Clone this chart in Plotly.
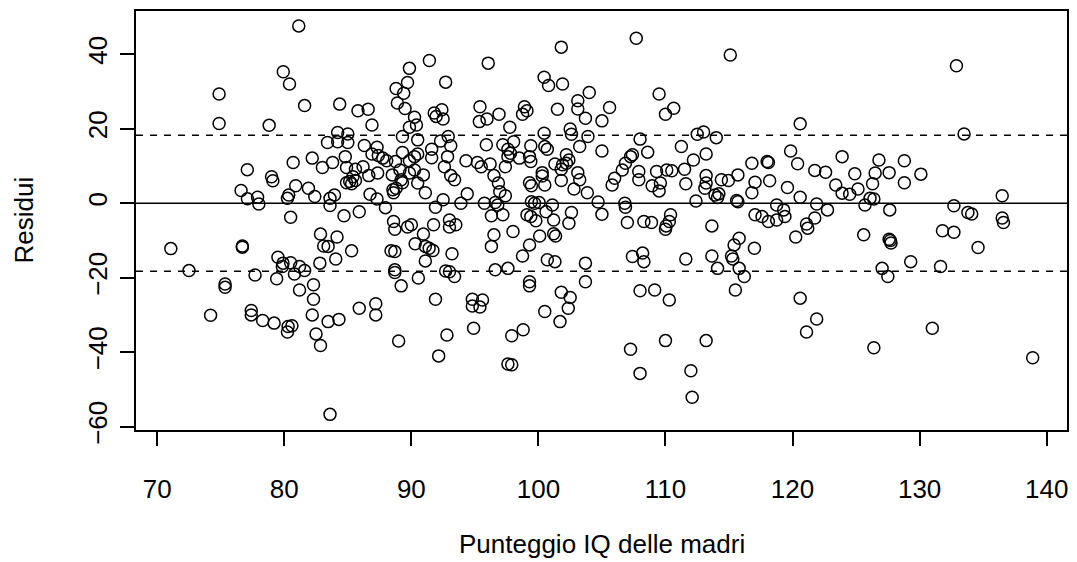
import plotly.graph_objects as go

# Punteggio IQ delle madri (x) e residui (y)
mom_iq = [
71.07,72.5,74.2,74.87,74.87,75.34,75.34,76.6,76.7,76.7,77.09,77.1,77.4,77.4,77.7,77.9,78.0,78.3,78.81,79.0,
79.1,79.2,79.4,79.5,79.85,79.9,79.92,80.25,80.25,80.3,80.35,80.41,80.5,80.5,80.6,80.7,80.8,80.9,81.14,81.2,
81.2,81.6,81.6,81.9,82.2,82.2,82.3,82.3,82.4,82.5,82.8,82.85,82.85,83.0,83.1,83.4,83.45,83.45,83.6,83.6,
83.6,83.8,83.95,84.05,84.15,84.2,84.2,84.3,84.36,84.7,84.8,84.9,84.9,85.0,85.0,85.15,85.3,85.3,85.4,85.6,
85.6,85.8,85.9,85.9,86.2,86.3,86.6,86.65,86.75,86.9,86.9,87.2,87.2,87.3,87.3,87.35,87.4,87.75,87.96,88.06,
88.4,88.5,88.55,88.6,88.6,88.7,88.7,88.7,88.7,88.75,88.8,88.8,88.9,89.0,89.1,89.2,89.2,89.3,89.3,89.3,
89.4,89.5,89.7,89.7,89.85,89.85,89.85,89.85,90.0,90.25,90.25,90.25,90.3,90.4,90.5,90.5,90.5,90.55,90.95,90.95,
91.1,91.1,91.1,91.4,91.42,91.6,91.6,91.7,91.75,91.8,91.9,91.9,91.95,92.15,92.3,92.4,92.5,92.5,92.6,92.7,
92.7,92.8,92.85,92.9,93.0,93.0,93.0,93.1,93.1,93.2,93.4,93.4,93.5,93.9,94.3,94.4,94.8,94.8,94.9,95.2,
95.35,95.4,95.4,95.5,95.6,95.75,95.9,95.95,96.05,96.2,96.3,96.3,96.5,96.5,96.6,96.6,96.8,96.85,96.9,96.96,
97.2,97.2,97.4,97.4,97.6,97.6,97.6,97.6,97.75,97.8,97.9,97.9,98.0,98.05,98.5,98.75,98.75,98.8,98.9,99.1,
99.1,99.3,99.3,99.3,99.3,99.3,99.4,99.4,99.4,99.45,99.45,99.7,99.8,100.05,100.1,100.3,100.3,100.45,100.45,100.5,
100.5,100.5,100.6,100.7,100.7,100.8,101.1,101.2,101.2,101.3,101.3,101.35,101.5,101.7,101.8,101.8,101.8,101.8,101.9,101.9,
102.2,102.2,102.35,102.4,102.4,102.5,102.5,102.6,102.6,102.8,103.1,103.1,103.1,103.25,103.25,103.7,103.7,103.7,103.85,103.9,
104.0,104.7,105.0,105.0,105.0,105.6,105.8,106.0,106.6,106.8,106.85,106.85,107.0,107.25,107.25,107.4,107.4,107.7,107.9,107.9,
108.0,108.0,108.0,108.2,108.3,108.3,108.6,108.9,108.95,109.15,109.3,109.5,109.5,109.6,110.0,110.0,110.0,110.05,110.1,110.3,
110.3,110.4,110.5,110.65,111.25,111.5,111.6,111.6,112.0,112.1,112.2,112.4,112.5,113.0,113.1,113.2,113.2,113.2,113.2,113.65,
113.65,113.9,114.0,114.1,114.1,114.2,114.4,114.95,115.1,115.2,115.3,115.4,115.5,115.6,115.7,115.7,115.8,115.8,116.2,116.8,
116.8,117.0,117.05,117.05,117.6,118.0,118.1,118.1,118.2,118.75,118.75,119.3,119.4,119.6,119.85,120.25,120.4,120.6,120.6,120.6,
121.1,121.1,121.2,121.75,121.75,121.9,121.9,122.6,122.75,123.4,123.9,123.9,124.5,124.9,125.15,125.6,125.7,126.1,126.3,126.4,
126.4,126.5,126.8,127.05,127.5,127.6,127.6,127.65,127.7,127.75,128.8,128.8,129.3,130.1,131.0,131.65,131.8,132.7,132.7,132.9,
133.5,133.8,134.1,134.6,136.5,136.5,136.6,138.9
]
residui = [
-12.2,-18.1,-30.1,29.3,21.4,-21.7,-22.6,3.4,-11.5,-11.8,9.0,1.2,-28.8,-30.0,-19.3,1.6,-0.2,-31.5,20.9,7.1,
6.0,-32.2,-20.3,-14.5,-17.0,-16.1,35.3,1.3,-34.6,-33.1,2.2,32.0,-16.0,-3.8,-32.9,10.9,-19.0,4.7,47.6,-23.3,
-17.0,26.2,-18.1,4.0,12.1,-30.0,-21.9,-25.8,1.8,-35.1,-16.1,-8.3,-38.2,9.6,-11.5,16.3,-11.6,-31.8,1.3,-0.6,
-56.7,10.9,2.2,-15.0,-9.1,19.0,16.5,-31.2,26.6,-3.4,12.5,9.6,5.5,18.6,16.3,5.8,5.2,-12.8,7.1,9.1,
6.1,24.8,-2.3,-28.2,9.8,15.5,25.2,7.4,2.4,21.0,13.2,-27.0,-30.0,15.0,1.1,8.1,12.8,12.1,-1.2,11.4,
-12.8,7.6,3.6,2.8,-4.9,-7.0,-13.0,-17.9,-18.6,11.2,30.8,4.0,26.9,-37.0,8.9,6.3,-22.2,17.9,13.6,5.5,
29.5,25.4,32.4,-6.4,36.2,20.4,11.4,8.1,-5.8,23.1,12.5,8.9,-10.9,21.0,17.0,13.2,5.4,-20.1,7.6,-8.3,
2.8,-11.6,-15.5,-12.1,38.3,14.5,12.2,-12.7,-5.8,24.2,-1.1,-25.8,23.3,-41.0,16.7,25.1,22.6,0.9,9.8,32.5,
-18.2,-35.4,12.5,17.9,-4.5,-6.4,-18.4,15.4,7.4,-13.6,6.3,-19.7,-5.8,0.0,11.4,2.5,-25.8,-27.6,-33.6,10.9,
21.9,25.9,-27.9,9.8,-26.0,0.0,15.7,22.6,37.6,10.5,-3.4,-11.6,7.4,-8.5,0.2,-17.9,-0.5,5.4,23.9,3.1,
15.7,-3.1,9.8,2.0,14.5,12.5,-17.5,-43.2,20.4,13.4,-35.6,-43.4,-7.6,16.5,12.1,23.9,-14.2,-34.0,25.9,24.8,
-3.1,12.5,5.5,-11.2,-21.1,-22.2,15.4,11.2,-3.6,4.7,0.4,0.0,-4.7,0.2,-8.8,8.2,7.3,33.8,18.8,15.2,
4.9,-29.1,-2.3,14.5,-15.2,31.6,-0.5,-4.5,-8.2,10.5,-15.7,-8.8,25.2,-31.8,41.9,9.1,6.1,-23.9,32.0,10.3,
13.0,10.7,-28.2,11.6,-5.4,19.9,-25.3,18.5,-2.5,3.8,27.5,25.3,8.2,15.2,6.3,22.8,-16.1,-21.1,2.8,17.9,
29.7,0.3,22.1,14.0,-3.0,25.7,4.9,6.7,8.9,0.0,-1.1,10.7,-5.2,12.5,-39.2,13.0,-14.3,44.3,8.5,6.3,
17.2,-23.5,-45.7,-13.4,-4.9,-15.7,13.7,-5.2,4.7,-23.3,8.5,29.3,3.3,5.4,23.9,-7.0,-36.9,-6.1,8.9,-4.9,
-26.0,-3.1,8.7,25.5,15.2,9.1,5.2,-15.0,-45.0,-52.1,11.6,0.6,18.5,19.1,4.0,13.2,7.4,5.4,-36.9,-6.1,
-14.2,2.2,17.6,1.5,-17.5,2.5,6.3,6.1,39.8,-14.2,-15.0,-11.2,-23.3,0.7,0.4,7.6,-9.4,-17.5,-19.7,10.7,
2.8,-12.1,5.6,-3.1,-3.6,11.2,10.9,-4.9,6.0,-4.5,-0.5,-1.8,-3.6,4.2,14.0,-9.1,10.6,21.3,1.6,-25.5,
-5.6,-34.6,-6.7,8.8,-4.0,-0.2,-31.1,8.3,-1.8,4.9,12.5,2.7,2.4,7.9,3.8,-8.5,-0.5,1.3,5.2,1.1,
-38.8,8.1,11.6,-17.5,-19.7,8.2,-9.7,-1.8,-10.0,-10.7,11.4,5.5,-15.7,7.8,-33.6,-17.0,-7.4,-7.8,-0.7,36.9,
18.6,-2.5,-2.9,-11.9,2.0,-4.0,-5.2,-41.5
]

x_ticks = [70, 80, 90, 100, 110, 120, 130, 140]
y_ticks = [-60, -40, -20, 0, 20, 40]
sigma = 18.27
x_label = "Punteggio IQ delle madri"
y_label = "Residui"


def fmt(v):
    return str(v).replace("-", "\u2212")


FONT = "Liberation Sans, Arial, Helvetica, sans-serif"
FS = 26

fig = go.Figure()
fig.add_trace(go.Scatter(
    x=mom_iq, y=residui, mode="markers",
    marker=dict(symbol="circle-open", size=12, color="black",
                line=dict(color="black", width=1.5)),
    hoverinfo="skip", showlegend=False))

for yv, dash in [(0, "solid"), (sigma, "7px,7px"), (-sigma, "7px,7px")]:
    fig.add_shape(type="line", xref="paper", yref="y", x0=0, x1=1, y0=yv, y1=yv,
                  line=dict(color="black", width=1.5, dash=dash))

axis_common = dict(showgrid=False, zeroline=False, showline=True, mirror=True,
                   linecolor="black", linewidth=1.5, ticks="outside", ticklen=14,
                   tickwidth=1.5, tickcolor="black",
                   tickfont=dict(family=FONT, size=FS, color="black"))

fig.update_xaxes(range=[68.33, 141.6], tickvals=x_ticks,
                 ticktext=[fmt(v) for v in x_ticks], ticklabelstandoff=21,
                 **axis_common)
fig.update_yaxes(range=[-60.9, 51.6], tickvals=y_ticks,
                 ticktext=[fmt(v) for v in y_ticks], tickangle=-90,
                 ticklabelstandoff=3, **axis_common)

fig.add_annotation(text=x_label, xref="paper", yref="paper", x=0.5, y=0,
                   yanchor="middle", yshift=-114, showarrow=False,
                   font=dict(family=FONT, size=FS, color="black"))
fig.add_annotation(text=y_label, xref="paper", yref="paper", x=0, y=0.5,
                   xanchor="center", xshift=-113, textangle=-90, showarrow=False,
                   font=dict(family=FONT, size=FS, color="black"))

fig.update_layout(width=1077, height=562, paper_bgcolor="white", plot_bgcolor="white",
                  margin=dict(l=136, r=8, t=11, b=132))
fig.write_html("out.html")
